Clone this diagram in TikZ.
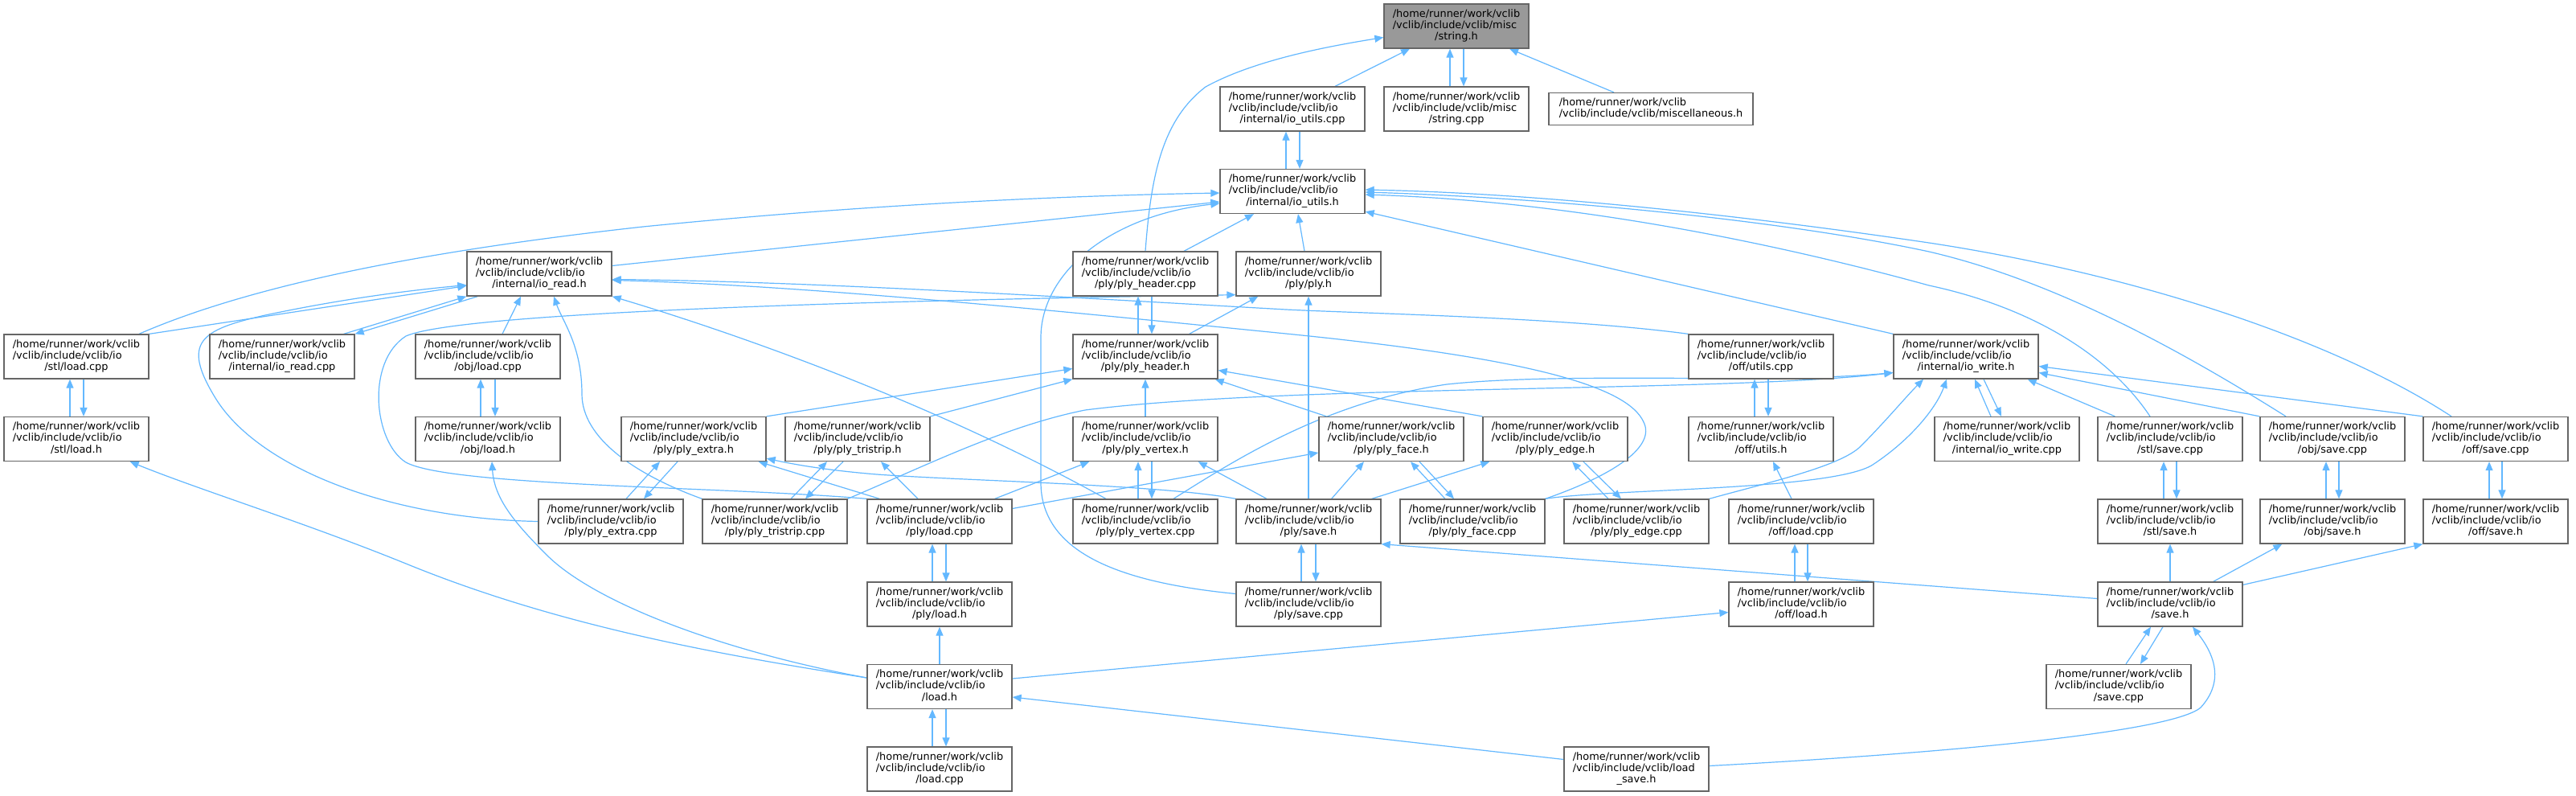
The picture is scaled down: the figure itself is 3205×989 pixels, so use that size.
\documentclass[tikz,border=0pt]{standalone}
\usepackage{fontspec}
\setmainfont{DejaVu Sans}
\usetikzlibrary{arrows.meta}
\definecolor{edgec}{HTML}{63B8FF}
\definecolor{bordc}{HTML}{666666}
\definecolor{hlc}{HTML}{999999}
\pgfdeclarelayer{bg}
\pgfsetlayers{bg,main}
\newcommand{\flbl}[3]{\begin{tabular}{@{}l@{}}#1\\#2\\\multicolumn{1}{@{}c@{}}{#3}\end{tabular}}
\newcommand{\iolbl}[1]{\flbl{/home/runner/work/vclib}{/vclib/include/vclib/io}{#1}}
\begin{document}
\begin{tikzpicture}[x=1pt,y=-1pt,
  incnode/.style={draw=bordc, line width=1.3pt, fill=white, rectangle, minimum width=180pt, minimum height=55pt, inner sep=0pt, font=\fontsize{12.9}{14.3}\selectfont},
  dep/.style={draw=edgec, line width=1.2pt, -{Triangle[length=11pt,width=9pt]}}]
\useasboundingbox (0,0) rectangle (3205,989);
% row A
\node[incnode, fill=hlc] (strh) at (1812,32.5) {\flbl{/home/runner/work/vclib}{/vclib/include/vclib/misc}{/string.h}};
% row B
\node[incnode] (iouc) at (1608,135.5) {\iolbl{/internal/io\_utils.cpp}};
\node[incnode] (strc) at (1812,135.5) {\flbl{/home/runner/work/vclib}{/vclib/include/vclib/misc}{/string.cpp}};
\node[incnode, minimum width=254pt, minimum height=40pt] (misc) at (2054,135.5) {\begin{tabular}{@{}l@{}}/home/runner/work/vclib\\/vclib/include/vclib/miscellaneous.h\end{tabular}};
% row C
\node[incnode] (iouh) at (1608,238) {\iolbl{/internal/io\_utils.h}};
% row D
\node[incnode] (iorh) at (671,340.5) {\iolbl{/internal/io\_read.h}};
\node[incnode] (phc) at (1425,340.5) {\iolbl{/ply/ply\_header.cpp}};
\node[incnode] (plyh) at (1628,340.5) {\iolbl{/ply/ply.h}};
% row E
\node[incnode] (stlc) at (95,443.5) {\iolbl{/stl/load.cpp}};
\node[incnode] (iorc) at (351,443.5) {\iolbl{/internal/io\_read.cpp}};
\node[incnode] (objlc) at (607,443.5) {\iolbl{/obj/load.cpp}};
\node[incnode] (phh) at (1425,443.5) {\iolbl{/ply/ply\_header.h}};
\node[incnode] (offuc) at (2191,443.5) {\iolbl{/off/utils.cpp}};
\node[incnode] (iowh) at (2446,443.5) {\iolbl{/internal/io\_write.h}};
% row F
\node[incnode] (stlh) at (95,546) {\iolbl{/stl/load.h}};
\node[incnode] (objlh) at (607,546) {\iolbl{/obj/load.h}};
\node[incnode] (pexh) at (863,546) {\iolbl{/ply/ply\_extra.h}};
\node[incnode] (ptrh) at (1067,546) {\iolbl{/ply/ply\_tristrip.h}};
\node[incnode] (pvh) at (1425,546) {\iolbl{/ply/ply\_vertex.h}};
\node[incnode] (pfh) at (1731,546) {\iolbl{/ply/ply\_face.h}};
\node[incnode] (peh) at (1935,546) {\iolbl{/ply/ply\_edge.h}};
\node[incnode] (offuh) at (2191,546) {\iolbl{/off/utils.h}};
\node[incnode] (iowc) at (2497,546) {\iolbl{/internal/io\_write.cpp}};
\node[incnode] (stlsc) at (2700,546) {\iolbl{/stl/save.cpp}};
\node[incnode] (objsc) at (2902,546) {\iolbl{/obj/save.cpp}};
\node[incnode] (offsc) at (3105,546) {\iolbl{/off/save.cpp}};
% row G
\node[incnode] (pexc) at (760,648.5) {\iolbl{/ply/ply\_extra.cpp}};
\node[incnode] (ptrc) at (964,648.5) {\iolbl{/ply/ply\_tristrip.cpp}};
\node[incnode] (plc) at (1169,648.5) {\iolbl{/ply/load.cpp}};
\node[incnode] (pvc) at (1425,648.5) {\iolbl{/ply/ply\_vertex.cpp}};
\node[incnode] (psh) at (1628,648.5) {\iolbl{/ply/save.h}};
\node[incnode] (pfc) at (1832,648.5) {\iolbl{/ply/ply\_face.cpp}};
\node[incnode] (pec) at (2036,648.5) {\iolbl{/ply/ply\_edge.cpp}};
\node[incnode] (offlc) at (2241,648.5) {\iolbl{/off/load.cpp}};
\node[incnode] (stlsh) at (2700,648.5) {\iolbl{/stl/save.h}};
\node[incnode] (objsh) at (2902,648.5) {\iolbl{/obj/save.h}};
\node[incnode] (offsh) at (3105,648.5) {\iolbl{/off/save.h}};
% row H
\node[incnode] (plh) at (1169,751.5) {\iolbl{/ply/load.h}};
\node[incnode] (psc) at (1628,751.5) {\iolbl{/ply/save.cpp}};
\node[incnode] (offlh) at (2241,751.5) {\iolbl{/off/load.h}};
\node[incnode] (saveh) at (2700,751.5) {\iolbl{/save.h}};
% row I
\node[incnode] (loadh) at (1169,854) {\iolbl{/load.h}};
\node[incnode] (savec) at (2636,854) {\iolbl{/save.cpp}};
% row J
\node[incnode] (loadc) at (1169,956.5) {\iolbl{/load.cpp}};
\node[incnode] (lsh) at (2036,956.5) {\flbl{/home/runner/work/vclib}{/vclib/include/vclib/load}{\_save.h}};

\begin{pgfonlayer}{bg}
\fill[white] (0,0) rectangle (3205,989);
% string.h
\draw[dep] ([xshift=53]iouc.north) -- ([xshift=-58]strh.south);
\draw[dep] ([xshift=-8]strc.north) -- ([xshift=-8]strh.south);
\draw[dep] ([xshift=9]strh.south) -- ([xshift=9]strc.north);
\draw[dep] ([xshift=-46]misc.north) -- ([xshift=66]strh.south);
\draw[dep] (phc.north) .. controls (1432,220) and (1445,150) .. (1500,108) .. controls (1560,75) and (1650,58) .. ([yshift=-14]strh.west);
% io_utils
\draw[dep] ([xshift=-8]iouh.north) -- ([xshift=-8]iouc.south);
\draw[dep] ([xshift=9]iouc.south) -- ([xshift=9]iouh.north);
\draw[dep] ([yshift=10]iorh.east) -- ([yshift=-13]iouh.west);
\draw[dep] ([xshift=78]stlc.north) .. controls (300,360) and (500,315) .. (800,282) .. controls (1100,252) and (1350,243) .. ([yshift=-2]iouh.west);
\draw[dep] ([yshift=13]psc.west) .. controls (1400,725) and (1295,690) .. (1295,600) -- (1295,420) .. controls (1295,340) and (1380,268) .. ([yshift=-15]iouh.west);
\draw[dep] ([xshift=48]phc.north) -- ([xshift=-48]iouh.south);
\draw[dep] ([xshift=-5]plyh.north) -- ([xshift=7]iouh.south);
\draw[dep] (iowh.north west) -- ([yshift=3]iouh.south east);
\draw[dep] ([xshift=-25]stlsc.north) .. controls (2630,450) and (2540,385) .. (2400,355) .. controls (2200,300) and (1950,250) .. ([yshift=-4]iouh.east);
\draw[dep] ([xshift=-58]objsc.north) .. controls (2720,440) and (2560,350) .. (2400,313) .. controls (2200,270) and (1900,245) .. ([yshift=-1]iouh.east);
\draw[dep] ([xshift=-55]offsc.north) .. controls (2900,420) and (2650,340) .. (2400,302) .. controls (2150,265) and (1900,240) .. ([yshift=2]iouh.east);
% io_read.h
\draw[dep] (stlc.north east) -- ([yshift=-15]iorh.west);
\draw[dep] (pexc.west) .. controls (480,645) and (320,580) .. (268,495) .. controls (225,425) and (250,410) .. (330,392) .. controls (420,373) and (500,362) .. ([yshift=-14]iorh.west);
\draw[dep] ([xshift=-14]iorc.north east) -- (iorh.south west);
\draw[dep] ([xshift=14]iorh.south west) -- (iorc.north east);
\draw[dep] ([xshift=18]objlc.north) -- ([xshift=-23]iorh.south);
\draw[dep] (ptrc.north west) .. controls (790,590) and (724,545) .. (724,490) .. controls (724,430) and (700,400) .. ([xshift=18]iorh.south);
\draw[dep] ([xshift=-49]pvc.north) .. controls (1150,495) and (900,410) .. (iorh.south east);
\draw[dep] (offuc.north west) .. controls (1950,395) and (1700,390) .. (1600,385) .. controls (1300,368) and (1000,350) .. ([yshift=-7]iorh.east);
\draw[dep] (pfc.north east) .. controls (2010,590) and (2060,555) .. (2045,525) .. controls (2025,480) and (1900,445) .. (1600,415) .. controls (1300,385) and (1000,355) .. ([yshift=-8]iorh.east);
% ply_header.h
\draw[dep] ([xshift=-9]phh.north) -- ([xshift=-9]phc.south);
\draw[dep] ([xshift=8]phc.south) -- ([xshift=8]phh.north);
\draw[dep] ([xshift=-36]phh.north east) -- ([xshift=28]plyh.south west);
\draw[dep] (pexh.north east) -- ([yshift=-15]phh.west);
\draw[dep] (ptrh.north east) -- (phh.south west);
\draw[dep] (pvh.north) -- (phh.south);
\draw[dep] ([xshift=10]pfh.north west) -- ([xshift=-4]phh.south east);
\draw[dep] (peh.north west) -- ([yshift=-17]phh.east);
% ply.h
\draw[dep] (plc.north west) .. controls (900,605) and (560,605) .. (505,575) .. controls (465,550) and (455,450) .. (505,418) .. controls (580,385) and (1200,372) .. ([yshift=2]plyh.south west);
\draw[dep] (psh.north) -- (plyh.south);
% io_write.h
\draw[dep] ([xshift=-20]iowc.north) -- ([xshift=11]iowh.south);
\draw[dep] ([xshift=22]iowh.south) -- ([xshift=-7]iowc.north);
\draw[dep] ([xshift=22]stlsc.north west) -- ([xshift=-14]iowh.south east);
\draw[dep] (objsc.north west) -- ([yshift=-20]iowh.east);
\draw[dep] (offsc.north west) -- ([yshift=-12]iowh.east);
\draw[dep] (pec.north east) .. controls (2200,600) and (2290,580) .. (2315,555) .. controls (2345,525) and (2370,495) .. ([xshift=-53]iowh.south);
\draw[dep] (pfc.north east) .. controls (2000,608) and (2280,610) .. (2330,578) .. controls (2380,545) and (2410,505) .. ([xshift=-24]iowh.south);
\draw[dep] (ptrc.north east) .. controls (1150,580) and (1250,530) .. (1350,510) .. controls (1600,478) and (2150,488) .. ([yshift=-20]iowh.west);
\draw[dep] ([xshift=35]pvc.north) .. controls (1540,570) and (1650,500) .. (1800,478) .. controls (1950,462) and (2200,478) .. ([yshift=-20]iowh.west);
% ply_extra.h
\draw[dep] ([xshift=19]pexc.north) -- ([xshift=-42]pexh.south);
\draw[dep] ([xshift=-20]pexh.south) -- ([xshift=41]pexc.north);
\draw[dep] ([xshift=16]plc.north west) -- ([xshift=-10]pexh.south east);
\draw[dep] (psh.north west) .. controls (1450,603) and (1200,598) .. (1091,590) .. controls (1030,585) and (990,578) .. ([yshift=4]pexh.south east);
% ply_tristrip.h
\draw[dep] ([xshift=20]ptrc.north) -- ([xshift=-38]ptrh.south);
\draw[dep] ([xshift=-18]ptrh.south) -- ([xshift=38]ptrc.north);
\draw[dep] ([xshift=-27]plc.north) -- ([xshift=29]ptrh.south);
% ply_vertex.h
\draw[dep] ([xshift=-9]pvc.north) -- ([xshift=-9]pvh.south);
\draw[dep] ([xshift=8]pvh.south) -- ([xshift=8]pvc.north);
\draw[dep] ([xshift=-22]plc.north east) -- ([xshift=21]pvh.south west);
\draw[dep] ([xshift=-52]psh.north) -- ([xshift=-25]pvh.south east);
% ply_face.h
\draw[dep] ([yshift=16]plc.east) -- ([yshift=-17]pfh.west);
\draw[dep] ([xshift=-62]psh.north east) -- ([xshift=-34]pfh.south);
\draw[dep] ([xshift=-34]pfc.north) -- ([xshift=24]pfh.south);
\draw[dep] ([xshift=35]pfh.south) -- ([xshift=-23]pfc.north);
% ply_edge.h
\draw[dep] ([xshift=-12]psh.north east) -- ([xshift=9]peh.south west);
\draw[dep] ([xshift=-35]pec.north) -- ([xshift=21]peh.south);
\draw[dep] ([xshift=35]peh.south) -- ([xshift=-19]pec.north);
% off
\draw[dep] ([xshift=-8]offuh.north) -- ([xshift=-8]offuc.south);
\draw[dep] ([xshift=9]offuc.south) -- ([xshift=9]offuh.north);
\draw[dep] ([xshift=-12]offlc.north) -- ([xshift=15]offuh.south);
\draw[dep] ([xshift=-8]offlh.north) -- ([xshift=-8]offlc.south);
\draw[dep] ([xshift=8]offlc.south) -- ([xshift=8]offlh.north);
% ply load
\draw[dep] ([xshift=-9]plh.north) -- ([xshift=-9]plc.south);
\draw[dep] ([xshift=8]plc.south) -- ([xshift=8]plh.north);
\draw[dep] (loadh.north) -- (plh.south);
\draw[dep] ([xshift=-9]loadc.north) -- ([xshift=-9]loadh.south);
\draw[dep] ([xshift=8]loadh.south) -- ([xshift=8]loadc.north);
% load.h
\draw[dep] ([yshift=11]loadh.west) .. controls (900,815) and (700,780) .. (510,703) .. controls (380,650) and (250,610) .. ([xshift=-24]stlh.south east);
\draw[dep] ([yshift=11]loadh.west) .. controls (900,810) and (740,750) .. (680,690) .. controls (640,650) and (615,620) .. ([xshift=5]objlh.south);
\draw[dep] ([yshift=10]loadh.east) -- ([yshift=-10]offlh.west);
\draw[dep] ([yshift=12]lsh.west) -- ([yshift=-13]loadh.east);
\draw[dep] ([yshift=4]lsh.east) .. controls (2400,938) and (2700,912) .. (2738,880) .. controls (2770,845) and (2752,810) .. ([xshift=28]saveh.south);
% save.h
\draw[dep] ([yshift=7]saveh.west) -- (psh.south east);
\draw[dep] (saveh.north) -- (stlsh.south);
\draw[dep] ([xshift=-37]saveh.north east) -- ([xshift=28]objsh.south west);
\draw[dep] ([yshift=-4]saveh.north east) -- (offsh.south west);
\draw[dep] ([xshift=9]savec.north) -- ([xshift=-24]saveh.south);
\draw[dep] ([xshift=-9]saveh.south) -- ([xshift=27]savec.north);
\draw[dep] ([xshift=-8]stlsh.north) -- ([xshift=-8]stlsc.south);
\draw[dep] ([xshift=8]stlsc.south) -- ([xshift=8]stlsh.north);
\draw[dep] ([xshift=-8]objsh.north) -- ([xshift=-8]objsc.south);
\draw[dep] ([xshift=8]objsc.south) -- ([xshift=8]objsh.north);
\draw[dep] ([xshift=-8]offsh.north) -- ([xshift=-8]offsc.south);
\draw[dep] ([xshift=8]offsc.south) -- ([xshift=8]offsh.north);
% stl / obj load
\draw[dep] ([xshift=-8]stlh.north) -- ([xshift=-8]stlc.south);
\draw[dep] ([xshift=9]stlc.south) -- ([xshift=9]stlh.north);
\draw[dep] ([xshift=-9]objlh.north) -- ([xshift=-9]objlc.south);
\draw[dep] ([xshift=9]objlc.south) -- ([xshift=9]objlh.north);
% ply/save
\draw[dep] ([xshift=-9]psc.north) -- ([xshift=-9]psh.south);
\draw[dep] ([xshift=9]psh.south) -- ([xshift=9]psc.north);
\end{pgfonlayer}
\end{tikzpicture}
\end{document}
